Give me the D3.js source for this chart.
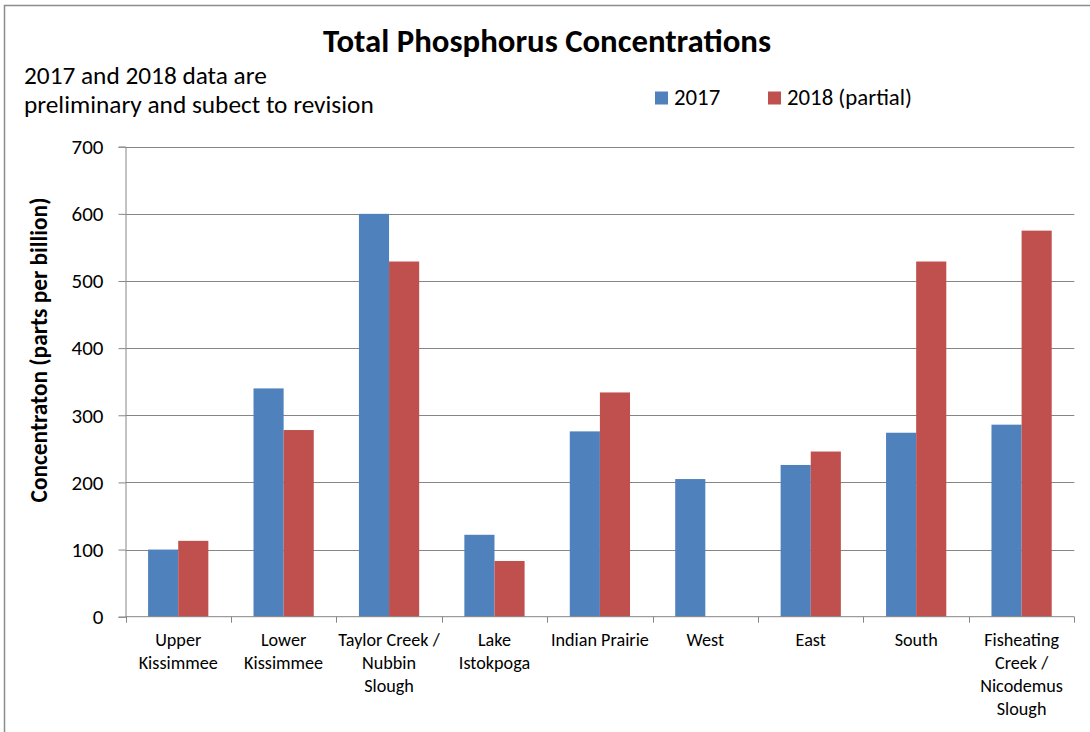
<!DOCTYPE html>
<html>
<head>
<meta charset="utf-8">
<script src="https://cdn.jsdelivr.net/npm/d3@7"></script>
<style>
  html, body { margin: 0; padding: 0; background: #fff; }
  svg { display: block; }
  text { font-family: Carlito, Calibri, Lato, "Open Sans", sans-serif; fill: #000; }
</style>
</head>
<body>
<svg id="chart" width="1090" height="732"></svg>
<script>
// ---- data ----
const categories = [
  ["Upper", "Kissimmee"],
  ["Lower", "Kissimmee"],
  ["Taylor Creek /", "Nubbin", "Slough"],
  ["Lake", "Istokpoga"],
  ["Indian Prairie"],
  ["West"],
  ["East"],
  ["South"],
  ["Fisheating", "Creek /", "Nicodemus", "Slough"]
];
const seriesNames = ["2017", "2018 (partial)"];
const values2017 = [100, 340, 600, 122, 276, 205, 226, 274, 286];
const values2018 = [113, 278, 529, 83, 334, null, 246, 529, 575];
const yTicks = [0, 100, 200, 300, 400, 500, 600, 700];
const colors = ["#4F81BD", "#C0504D"];

const titleText = "Total Phosphorus Concentrations";
const noteLines = ["2017 and 2018 data are", "preliminary and subect to revision"];
const yAxisTitle = "Concentraton (parts per billion)";

// ---- layout ----
const svg = d3.select("#chart");
const plot = { left: 125.5, right: 1074.3, top: 146.7, bottom: 616.7 };
const gridColor = "#868686";

// scale a text's font size so that its rendered width matches a target
function fit(sel, target, maxSize) {
  const node = sel.node();
  const size = parseFloat(sel.attr("font-size"));
  const w = node.getComputedTextLength();
  let ns = size * target / w;
  if (maxSize) ns = Math.min(ns, maxSize);
  sel.attr("font-size", ns);
  return ns;
}

// outer frame (cut off at right/bottom)
svg.append("rect")
  .attr("x", 4.5).attr("y", 5.5)
  .attr("width", 1200).attr("height", 800)
  .attr("fill", "none").attr("stroke", "#8c8c8c").attr("stroke-width", 1.5);

const catIdx = categories.map((d, i) => i);
const x = d3.scaleBand().domain(catIdx).range([plot.left, plot.right]).padding(0);
const y = d3.scaleLinear().domain([0, 700]).range([plot.bottom, plot.top]);
const inner = d3.scaleBand().domain([0, 1])
  .range([0, x.bandwidth()]).paddingInner(0).paddingOuter(0.75);

// gridlines
svg.append("g").selectAll("line").data(yTicks.filter(t => t > 0)).join("line")
  .attr("x1", plot.left).attr("x2", plot.right)
  .attr("y1", d => Math.round(y(d)) + 0.5).attr("y2", d => Math.round(y(d)) + 0.5)
  .attr("stroke", gridColor).attr("stroke-width", 1);

// y axis
const yAxis = d3.axisLeft(y).tickValues(yTicks).tickSize(7).tickPadding(15);
const gy = svg.append("g").attr("transform", `translate(${plot.left},0)`).call(yAxis);
gy.select(".domain").attr("stroke", gridColor);
gy.selectAll(".tick line").attr("stroke", gridColor);
gy.selectAll(".tick text").attr("font-size", 21).attr("fill", "#000")
  .style("font-family", "Carlito, Calibri, Lato, sans-serif");

// bars
const series = [values2017, values2018];
series.forEach((vals, s) => {
  svg.append("g").selectAll("rect")
    .data(vals.map((v, i) => ({ v, i })).filter(d => d.v != null))
    .join("rect")
    .attr("x", d => x(d.i) + inner(s))
    .attr("width", inner.bandwidth())
    .attr("y", d => y(d.v))
    .attr("height", d => y(0) - y(d.v))
    .attr("fill", colors[s]);
});

// x axis
const xEdges = d3.range(categories.length + 1).map(i => plot.left + i * x.bandwidth());
svg.append("line")
  .attr("x1", plot.left).attr("x2", plot.right)
  .attr("y1", plot.bottom).attr("y2", plot.bottom)
  .attr("stroke", gridColor);
svg.append("g").selectAll("line").data(xEdges).join("line")
  .attr("x1", d => Math.round(d) + 0.5).attr("x2", d => Math.round(d) + 0.5)
  .attr("y1", plot.bottom).attr("y2", plot.bottom + 6)
  .attr("stroke", gridColor);

// category labels
const probe = svg.append("text").attr("font-size", 17).text("Indian Prairie");
const catSize = fit(probe, 98);
probe.remove();
const labG = svg.append("g");
categories.forEach((lines, i) => {
  const t = labG.append("text")
    .attr("text-anchor", "middle")
    .attr("font-size", catSize);
  lines.forEach((ln, j) => {
    t.append("tspan")
      .attr("x", x(i) + x.bandwidth() / 2)
      .attr("y", 646 + j * 23)
      .text(ln);
  });
});

// y axis title
const yt = svg.append("text")
  .attr("transform", "translate(47,350) rotate(-90)")
  .attr("text-anchor", "middle")
  .attr("font-size", 18).attr("font-weight", "bold")
  .text(yAxisTitle);
fit(yt, 305);

// title
const tt = svg.append("text")
  .attr("x", 547).attr("y", 52)
  .attr("text-anchor", "middle")
  .attr("font-size", 24).attr("font-weight", "bold")
  .text(titleText);
fit(tt, 448);

// note
const n1 = svg.append("text").attr("x", 24).attr("y", 84).attr("font-size", 20).text(noteLines[0]);
const nSize = fit(n1, 243);
svg.append("text").attr("x", 24).attr("y", 113).attr("font-size", nSize).text(noteLines[1]);

// legend
const legendX = [655, 768];
const lg = svg.append("text").attr("font-size", 20).text(seriesNames[1]);
const lSize = fit(lg, 125);
lg.remove();
seriesNames.forEach((name, s) => {
  svg.append("rect")
    .attr("x", legendX[s]).attr("y", 91.5)
    .attr("width", 13).attr("height", 13)
    .attr("fill", colors[s]);
  svg.append("text")
    .attr("x", legendX[s] + 19).attr("y", 105)
    .attr("font-size", lSize)
    .text(name);
});
</script>
</body>
</html>
